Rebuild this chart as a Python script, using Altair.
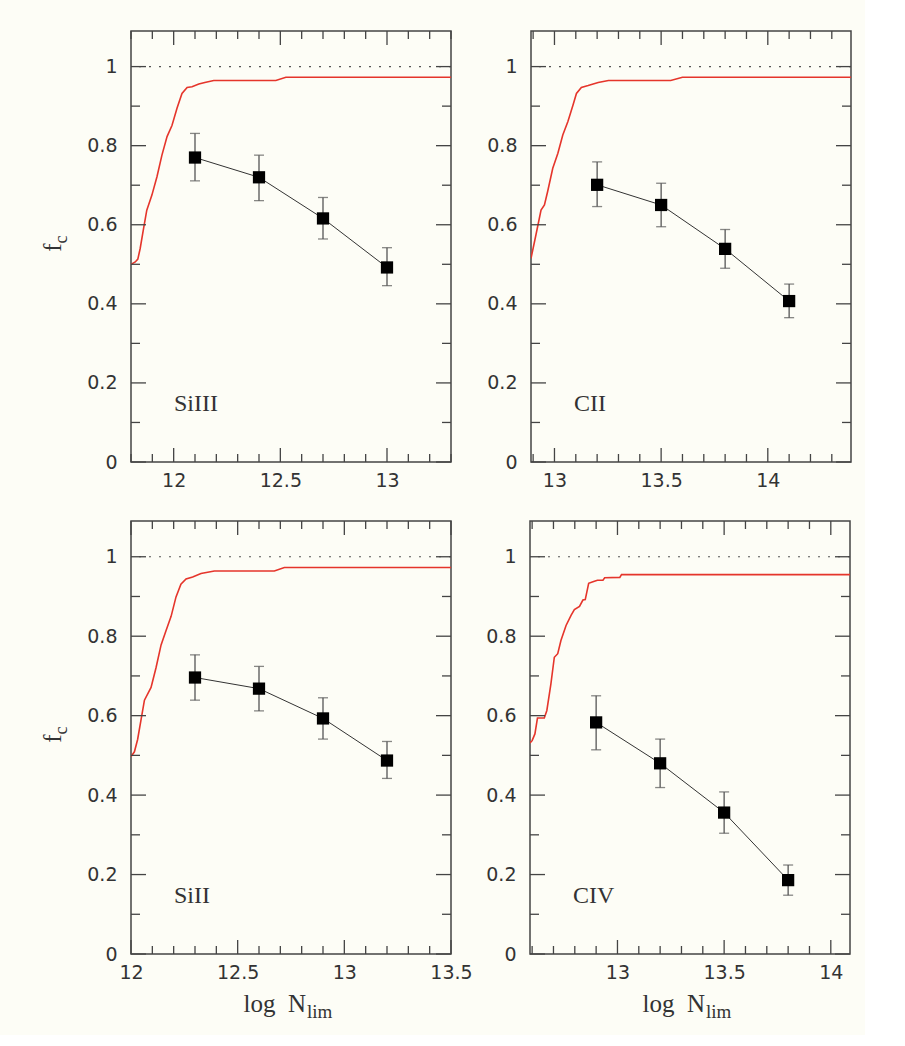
import altair as alt
import numpy as np
import pandas as pd

# ---------------- data ----------------
ions = ["SiIII", "CII", "SiII", "CIV"]
x_min = [11.8, 12.89, 12.0, 12.59]
x_max = [13.3, 14.39, 13.5, 14.09]
x_major = [[12.0, 12.5, 13.0], [13.0, 13.5, 14.0], [12.0, 12.5, 13.0, 13.5], [13.0, 13.5, 14.0]]
y_major = [0.0, 0.2, 0.4, 0.6, 0.8, 1.0]
y_minor = [0.1, 0.3, 0.5, 0.7, 0.9]
ref_level = [1.0]

# measured points (log N_lim, f_c, lower error, upper error)
pt_x = [
    [12.1, 12.4, 12.7, 13.0],
    [13.2, 13.5, 13.8, 14.1],
    [12.3, 12.6, 12.9, 13.2],
    [12.9, 13.2, 13.5, 13.8],
]
pt_y = [
    [0.770, 0.720, 0.616, 0.492],
    [0.701, 0.650, 0.539, 0.407],
    [0.696, 0.668, 0.593, 0.487],
    [0.583, 0.480, 0.356, 0.186],
]
pt_lo = [
    [0.711, 0.661, 0.564, 0.446],
    [0.646, 0.595, 0.490, 0.365],
    [0.639, 0.612, 0.541, 0.442],
    [0.514, 0.419, 0.304, 0.148],
]
pt_hi = [
    [0.831, 0.776, 0.669, 0.542],
    [0.759, 0.705, 0.588, 0.450],
    [0.753, 0.724, 0.645, 0.535],
    [0.650, 0.541, 0.408, 0.224],
]

# red curves
cur_x = [
    [11.8, 11.82, 11.832, 11.843, 11.859, 11.874, 11.898, 11.922, 11.945, 11.969, 11.992,
     12.016, 12.039, 12.063, 12.086, 12.118, 12.146, 12.188, 12.479, 12.526, 13.3],
    [12.89, 12.913, 12.937, 12.953, 12.968, 12.992, 13.016, 13.039, 13.063, 13.087, 13.103,
     13.126, 13.158, 13.205, 13.253, 13.545, 13.600, 14.39],
    [12.0, 12.016, 12.031, 12.063, 12.094, 12.117, 12.141, 12.164, 12.188, 12.211, 12.234,
     12.258, 12.289, 12.328, 12.391, 12.672, 12.719, 13.5],
    [12.59, 12.60, 12.613, 12.625, 12.657, 12.669, 12.688, 12.704, 12.720, 12.735, 12.759,
     12.783, 12.798, 12.822, 12.838, 12.849, 12.865, 12.885, 12.906, 12.932, 12.940, 13.011,
     13.019, 14.09],
]
cur_y = [
    [0.500, 0.506, 0.513, 0.540, 0.591, 0.637, 0.675, 0.722, 0.776, 0.823, 0.851,
     0.895, 0.932, 0.947, 0.949, 0.956, 0.960, 0.965, 0.965, 0.973, 0.973],
    [0.515, 0.574, 0.637, 0.650, 0.684, 0.743, 0.781, 0.827, 0.861, 0.903, 0.932,
     0.947, 0.952, 0.960, 0.965, 0.965, 0.973, 0.973],
    [0.497, 0.509, 0.540, 0.639, 0.671, 0.720, 0.778, 0.814, 0.850, 0.899, 0.931,
     0.944, 0.949, 0.958, 0.964, 0.964, 0.973, 0.973],
    [0.531, 0.537, 0.554, 0.594, 0.594, 0.613, 0.680, 0.747, 0.756, 0.789, 0.827,
     0.853, 0.867, 0.875, 0.891, 0.892, 0.933, 0.937, 0.941, 0.941, 0.947, 0.948,
     0.955, 0.955],
]

y_title = ["f", "c"]
x_title = ["log\u00a0\u00a0N", "lim"]

# ---------------- style ----------------
W = 320
FRAME = "#444444"
TXT = "#333333"
RED = "#E5352B"
BG = "#FDFDF6"
NUM_FONT = "DejaVu Sans"
SERIF = "Liberation Serif"


def minor_ticks(lo, hi, major):
    vals = np.round(np.arange(np.ceil(lo * 10) / 10, hi + 1e-9, 0.1), 2)
    return [float(v) for v in vals if all(abs(v - m) > 1e-6 for m in major)]


def panel(i, h, left_col, bottom_row):
    xs = alt.Scale(domain=[x_min[i], x_max[i]], nice=False, zero=False)
    ys = alt.Scale(domain=[0, 1.09], nice=False, zero=False)
    xaxis = alt.Axis(values=x_major[i], format="~g", labelFont=NUM_FONT, labelFontSize=19,
                     labelColor=TXT, labelPadding=9, ticks=False, tickSize=0, domain=False,
                     grid=False, labelFlush=False, labelOverlap=False, title=None)
    yaxis = alt.Axis(values=y_major, format="~g", labelFont=NUM_FONT, labelFontSize=19,
                     labelColor=TXT, labelPadding=14, ticks=False, tickSize=0, domain=False,
                     grid=False, labelOverlap=False, title=None)

    def X(f):
        return alt.X(f, type="quantitative", scale=xs, axis=xaxis)

    def Y(f):
        return alt.Y(f, type="quantitative", scale=ys, axis=yaxis)

    pts = pd.DataFrame({"x": pt_x[i], "y": pt_y[i], "lo": pt_lo[i], "hi": pt_hi[i]})
    cur = pd.DataFrame({"x": cur_x[i], "y": cur_y[i], "o": list(range(len(cur_x[i])))})
    xmaj = pd.DataFrame({"v": x_major[i]})
    xmin_ = pd.DataFrame({"v": minor_ticks(x_min[i], x_max[i], x_major[i])})
    ymaj = pd.DataFrame({"v": y_major})
    ymin_ = pd.DataFrame({"v": y_minor})

    layers = []
    layers.append(alt.Chart(pd.DataFrame({"v": ref_level})).mark_rule(
        color="#555555", strokeWidth=1.2, strokeDash=[2, 8]).encode(y=Y("v")))
    layers.append(alt.Chart(cur).mark_line(color=RED, strokeWidth=1.6, clip=True).encode(
        x=X("x"), y=Y("y"), order="o:Q"))
    layers.append(alt.Chart(pts).mark_line(color="#333333", strokeWidth=1).encode(
        x=X("x"), y=Y("y")))
    layers.append(alt.Chart(pts).mark_rule(color="#555555", strokeWidth=1.3).encode(
        x=X("x"), y=Y("lo"), y2="hi"))
    layers.append(alt.Chart(pts).mark_tick(color="#555555", orient="horizontal", size=10,
                                           thickness=1.3).encode(x=X("x"), y=Y("lo")))
    layers.append(alt.Chart(pts).mark_tick(color="#555555", orient="horizontal", size=10,
                                           thickness=1.3).encode(x=X("x"), y=Y("hi")))
    layers.append(alt.Chart(pts).mark_square(size=150, color="black", opacity=1).encode(
        x=X("x"), y=Y("y")))

    tick_style = dict(color=FRAME, strokeWidth=1.3)
    # inward ticks on all four sides
    layers.append(alt.Chart(ymaj).mark_rule(**tick_style).encode(
        y=Y("v"), x=alt.value(0), x2=alt.value(15)))
    layers.append(alt.Chart(ymin_).mark_rule(**tick_style).encode(
        y=Y("v"), x=alt.value(0), x2=alt.value(9)))
    layers.append(alt.Chart(ymaj).mark_rule(**tick_style).encode(
        y=Y("v"), x=alt.value(W), x2=alt.value(W - 15)))
    layers.append(alt.Chart(ymin_).mark_rule(**tick_style).encode(
        y=Y("v"), x=alt.value(W), x2=alt.value(W - 9)))
    layers.append(alt.Chart(xmaj).mark_rule(**tick_style).encode(
        x=X("v"), y=alt.value(0), y2=alt.value(14)))
    layers.append(alt.Chart(xmin_).mark_rule(**tick_style).encode(
        x=X("v"), y=alt.value(0), y2=alt.value(8)))
    layers.append(alt.Chart(xmaj).mark_rule(**tick_style).encode(
        x=X("v"), y=alt.value(h), y2=alt.value(h - 14)))
    layers.append(alt.Chart(xmin_).mark_rule(**tick_style).encode(
        x=X("v"), y=alt.value(h), y2=alt.value(h - 8)))

    # ion label
    layers.append(alt.Chart(pd.DataFrame({"t": [ions[i]]})).mark_text(
        font=SERIF, fontSize=24, align="left", baseline="alphabetic", color=TXT).encode(
        x=alt.value(43), y=alt.value(h - 51), text="t:N"))

    if left_col:
        layers.append(alt.Chart(pd.DataFrame({"t": [y_title[0]]})).mark_text(
            font=SERIF, fontSize=25, align="right", baseline="alphabetic", angle=270,
            color=TXT).encode(x=alt.value(-70), y=alt.value(h / 2 - 3), text="t:N"))
        layers.append(alt.Chart(pd.DataFrame({"t": [y_title[1]]})).mark_text(
            font=SERIF, fontSize=18, align="left", baseline="alphabetic", angle=270,
            color=TXT).encode(x=alt.value(-64), y=alt.value(h / 2 - 3), text="t:N"))
    if bottom_row:
        layers.append(alt.Chart(pd.DataFrame({"t": [x_title[0]]})).mark_text(
            font=SERIF, fontSize=25, align="right", baseline="alphabetic",
            color=TXT).encode(x=alt.value(175), y=alt.value(h + 58), text="t:N"))
        layers.append(alt.Chart(pd.DataFrame({"t": [x_title[1]]})).mark_text(
            font=SERIF, fontSize=19, align="left", baseline="alphabetic",
            color=TXT).encode(x=alt.value(176), y=alt.value(h + 64), text="t:N"))

    return alt.layer(*layers).properties(width=W, height=h)


top = alt.hconcat(panel(0, 431, True, False), panel(1, 431, False, False), spacing=33)
bottom = alt.hconcat(panel(2, 433, True, True), panel(3, 433, False, True), spacing=12)

chart = alt.vconcat(top, bottom, spacing=28).properties(
    padding={"left": 40, "top": 29, "right": 12, "bottom": 12},
    background=BG,
).configure_view(stroke=FRAME, strokeWidth=1.5, fill=BG)

chart.save("out.html", embed_options={"renderer": "svg", "actions": False})
